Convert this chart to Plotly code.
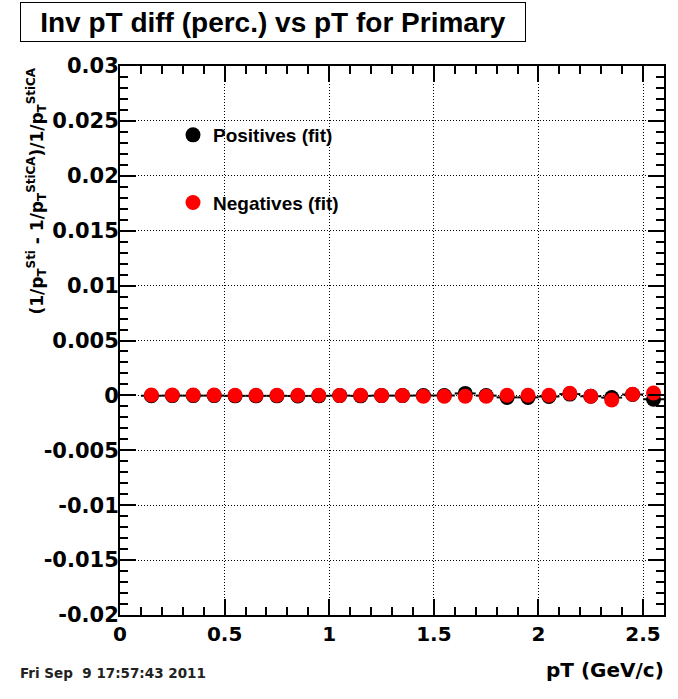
import plotly.graph_objects as go

# ---- data ----
pt = [0.15, 0.25, 0.35, 0.45, 0.55, 0.65, 0.75, 0.85, 0.95, 1.05, 1.15, 1.25, 1.35,
      1.45, 1.55, 1.65, 1.75, 1.85, 1.95, 2.05, 2.15, 2.25, 2.35, 2.45, 2.55]
pos_vals = [-0.00003, -0.00002, -0.00002, -0.00002, -0.00004, -0.00004, -0.00004, -0.00005, -0.00004,
            -0.00002, -0.00004, -0.00002, -0.00002, -0.00001, -0.00001, 0.00018, -0.00002, -0.00018,
            -0.00018, -0.00010, 0.00012, -0.00008, -0.00020, 0.00008, -0.00035]
neg_vals = [0.00003, 0.00004, 0.00004, 0.00004, 0.00002, 0.00002, 0.00002, 0.00002, 0.00002,
            0.00000, 0.00002, 0.00000, -0.00001, -0.00008, -0.00008, -0.00008, -0.00008, 0.00002,
            0.00002, 0.00002, 0.00020, -0.00008, -0.00042, 0.00010, 0.00022]
x_half_bin = [0.05] * len(pt)

ytick_vals = [-0.02, -0.015, -0.01, -0.005, 0, 0.005, 0.01, 0.015, 0.02, 0.025, 0.03]
ytick_text = ["-0.02", "-0.015", "-0.01", "-0.005", "0", "0.005", "0.01", "0.015", "0.02", "0.025", "0.03"]
xtick_vals = [0, 0.5, 1, 1.5, 2, 2.5]
xtick_text = ["0", "0.5", "1", "1.5", "2", "2.5"]

title_text = "Inv pT diff (perc.) vs pT for Primary"
ytitle = ("(1/p<sub>T</sub><sup>Sti</sup> - 1/p<sub>T</sub><sup>StiCA</sup>)"
          "/1/p<sub>T</sub><sup>StiCA</sup>")
xtitle = "pT (GeV/c)"
date_text = "Fri Sep  9 17:57:43 2011"

AX = "DejaVu Sans"
W, H = 678, 699
L, R, T, B = 120, 14, 66, 84

fig = go.Figure()
fig.add_trace(go.Scatter(
    x=pt, y=pos_vals, mode="markers", name="<b>Positives (fit)</b>",
    marker=dict(color="black", size=15, line=dict(width=0)),
    error_x=dict(type="data", array=x_half_bin, color="black", thickness=2, width=0),
    legendgroup="a"))
fig.add_trace(go.Scatter(
    x=pt, y=neg_vals, mode="markers", name="<b>Negatives (fit)</b>",
    marker=dict(color="#ff0000", size=15, line=dict(width=0)),
    legendgroup="b"))

axis_common = dict(
    showline=True, linecolor="black", linewidth=2, mirror="ticks",
    ticks="inside", ticklen=16, tickwidth=1.5, tickcolor="black",
    showgrid=True, gridcolor="black", gridwidth=1, griddash="1px,2px",
    zeroline=False,
)

fig.update_xaxes(range=[0, 2.6], tickvals=xtick_vals, ticktext=xtick_text,
                 tickfont=dict(family=AX, size=20, color="black", weight="bold"),
                 minor=dict(dtick=0.1, tick0=0, ticks="inside", ticklen=8, tickwidth=1.5,
                            tickcolor="black", showgrid=False),
                 **axis_common)
fig.update_yaxes(range=[-0.02, 0.03], tickvals=ytick_vals, ticktext=ytick_text,
                 tickfont=dict(family=AX, size=21, color="black", weight="bold"),
                 ticklabelstandoff=-5,
                 minor=dict(dtick=0.001, tick0=0, ticks="inside", ticklen=8, tickwidth=1.5,
                            tickcolor="black", showgrid=False),
                 **axis_common)

fig.update_layout(
    width=W, height=H,
    margin=dict(l=L, r=R, t=T, b=B),
    paper_bgcolor="white", plot_bgcolor="white",
    showlegend=True,
    legend=dict(x=(173 - L) / (W - L - R), xanchor="left", y=1 - (116 - T) / (H - T - B), yanchor="top",
                bgcolor="rgba(0,0,0,0)", borderwidth=0, tracegroupgap=40,
                font=dict(family="Liberation Sans", size=19, color="black"),
                itemsizing="trace"),
    annotations=[
        dict(text="<b>" + title_text + "</b>", xref="paper", yref="paper",
             x=(273 - L) / (W - L - R), y=1 + (T - 22) / (H - T - B), xanchor="center", yanchor="middle",
             showarrow=False, font=dict(family="Liberation Sans", size=28, color="black"),
             width=502, height=36, borderpad=1, bordercolor="black", borderwidth=1, bgcolor="white"),
        dict(text="<b>" + ytitle + "</b>", xref="paper", yref="paper",
             x=0, y=1, xanchor="center", yanchor="top", xshift=37 - L, textangle=-90,
             showarrow=False, font=dict(family=AX, size=17, color="black")),
        dict(text="<b>" + xtitle + "</b>", xref="paper", yref="paper",
             x=1, y=0, xanchor="right", yanchor="top", yshift=-41, xshift=2,
             showarrow=False, font=dict(family=AX, size=20, color="black")),
        dict(text="<b>" + date_text + "</b>", xref="paper", yref="paper",
             x=0, y=0, xanchor="left", yanchor="middle", xshift=18 - L, yshift=-(673 - (H - B)),
             showarrow=False, font=dict(family=AX, size=13.5, color="#222222")),
    ],
)

fig.write_html("out.html")
